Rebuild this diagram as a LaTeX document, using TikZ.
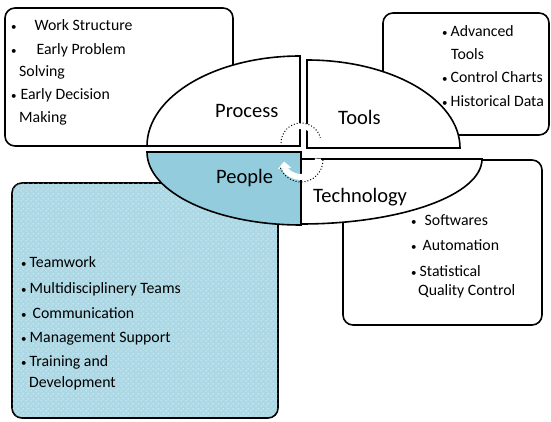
\documentclass[tikz,border=0pt]{standalone}
\usepackage{fontspec}
\setmainfont{Carlito}
\usepackage{xcolor}
\usetikzlibrary{arrows.meta, patterns.meta, positioning}
\definecolor{peopleblue}{HTML}{93CDDD}
\definecolor{dotblue}{HTML}{ABD8E4}
\tikzdeclarepattern{name=pdots, type=uncolored,
	bounding box={(0pt,0pt) and (5pt,5pt)}, tile size={(5pt,5pt)},
	code={\pgfpathcircle{\pgfpoint{1.25pt}{1.25pt}}{0.65pt}
		\pgfpathcircle{\pgfpoint{3.75pt}{3.75pt}}{0.65pt}\pgfusepath{fill}}}
\newcommand{\bul}{{\fontsize{11}{11}\selectfont •}}
\tikzstyle{panel}=[draw=black, line width=1.6pt, rounded corners=10pt]
\tikzstyle{quarter}=[draw=black, line width=1.6pt, fill=white]
\tikzstyle{quadname}=[anchor=base west, inner sep=0pt, font=\fontsize{20.5}{24}\selectfont]
\tikzstyle{item}=[anchor=base west, inner sep=0pt, font=\fontsize{15.8}{20}\selectfont]
\tikzstyle{cyclewhite}=[white, line width=6pt]
\tikzstyle{cycledots}=[black, dotted, line width=1pt]

\begin{document}
\begin{tikzpicture}[x=1pt, y=-1pt]
	\useasboundingbox (0,0) rectangle (551,422);
	% boxes behind the quarters
	\draw[panel, fill=white] (5,8) rectangle (233,146);
	\draw[panel, fill=white] (383,13) rectangle (549,135);
	\draw[panel, fill=white] (343,160) rectangle (542,325);
	\draw[panel, fill=dotblue, postaction={pattern=pdots, pattern color=white}] (12,183) rectangle (278,418);
	
	% four quarters
	\draw[quarter] (300,146) -- (147,146) arc[start angle=180, end angle=270, x radius=153, y radius=90] -- cycle;
	\draw[quarter] (307,148) -- (307,60) arc[start angle=270, end angle=360, x radius=153, y radius=88] -- cycle;
	\draw[quarter, fill=peopleblue] (301,152) -- (147,152) arc[start angle=180, end angle=90, x radius=154, y radius=73] -- cycle;
	\draw[quarter] (301,159) -- (482,159) arc[start angle=0, end angle=90, x radius=181, y radius=65] -- cycle;
	
	% circular arrows
	\draw[cyclewhite] (301,143) ++(185:17) arc[start angle=185, end angle=355, radius=17];
	\draw[cycledots] (301,143) ++(180:20) arc[start angle=180, end angle=345, radius=20];
	\draw[cyclewhite, -{Triangle[width=13pt, length=7pt]}] (301,160) ++(-5:17) arc[start angle=-5, end angle=175, radius=17];
	\draw[cycledots] (301,160) ++(0:22) arc[start angle=0, end angle=160, radius=22];
	
	\node[quadname] (process) at (215,118) {Process};
	\node[quadname] (tools) at (338,125) {Tools};
	\node[quadname] (people) at (216,184) {People};
	\node[quadname] (technology) at (313,202) {Technology};
	
	% process list
	\node[item] (work) at (11,31) {\bul\hspace{18pt}Work Structure};
	\node[item] (problem) at (11,55) {\bul\hspace{20pt}Early Problem};
	\node[item] (solving) at (19,77) {Solving};
	\node[item] (decision) at (11,100) {\bul\hspace{4pt}Early Decision};
	\node[item] (making) at (19,123) {Making};
	
	% tools list
	\node[item] (advanced) at (442,37) {\bul\hspace{3pt}Advanced};
	\node[item] (toolsb) at (451,60) {Tools};
	\node[item] (charts) at (442,83) {\bul\hspace{3pt}Control Charts};
	\node[item] (history) at (442,107) {\bul\hspace{3pt}Historical Data};
	
	% technology list
	\node[item] (soft) at (411,225) {\bul\hspace{8pt}Softwares};
	\node[item] (auto) at (411,250) {\bul\hspace{6pt}Automation};
	\node[item] (stat) at (411,276) {\bul\hspace{3pt}Statistical};
	\node[item] (quality) at (418,295) {Quality Control};
	
	% people list
	\node[item] (team) at (21,267) {\bul\hspace{3pt}Teamwork};
	\node[item] (multi) at (21,293) {\bul\hspace{3pt}Multidisciplinery Teams};
	\node[item] (comm) at (21,318) {\bul\hspace{6pt}Communication};
	\node[item] (manage) at (21,342) {\bul\hspace{3pt}Management Support};
	\node[item] (train) at (21,366) {\bul\hspace{3pt}Training and};
	\node[item] (develop) at (29,387) {Development};
\end{tikzpicture}
\end{document}
